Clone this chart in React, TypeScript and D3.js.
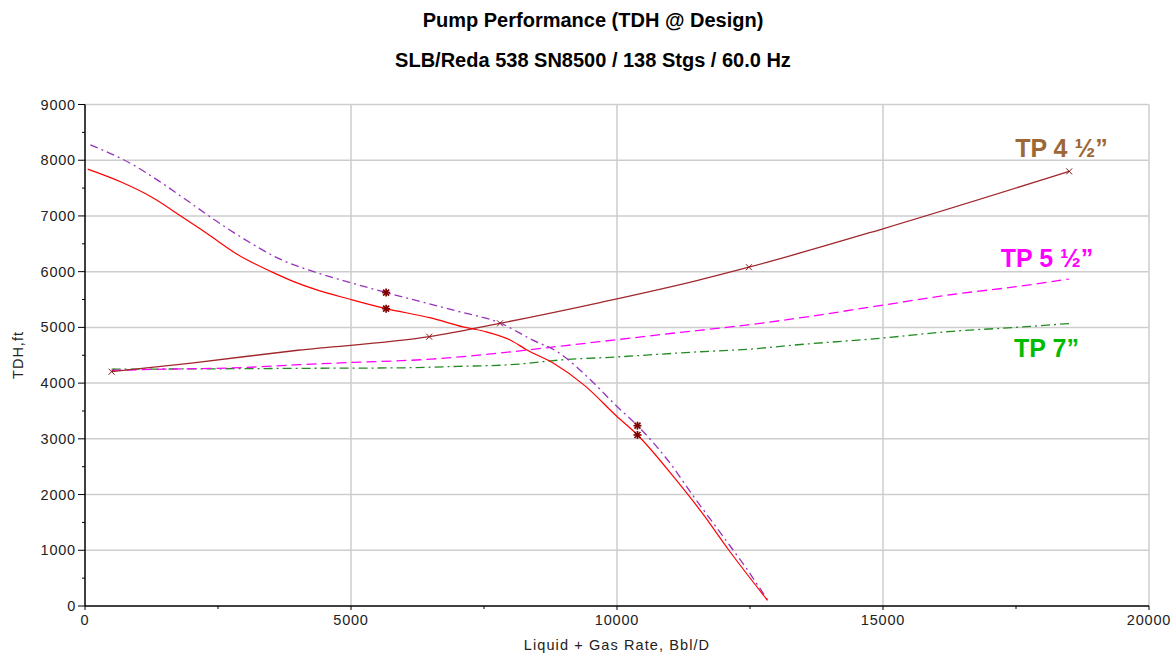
import React from "react";
import * as d3 from "d3";

type P = [number, number];

const TITLE = "Pump Performance (TDH @ Design)";
const SUBTITLE = "SLB/Reda 538 SN8500 / 138 Stgs / 60.0 Hz";
const X_LABEL = "Liquid + Gas Rate, Bbl/D";
const Y_LABEL = "TDH,ft";

const xMajorTicks = [0, 5000, 10000, 15000, 20000];
const xMinorTicks = [2500, 7500, 12500, 17500];
const yMajorTicks = [0, 1000, 2000, 3000, 4000, 5000, 6000, 7000, 8000, 9000];
const yMinorTicks = [500, 1500, 2500, 3500, 4500, 5500, 6500, 7500, 8500];

// Pump curve at design (solid red)
const pumpCurve: P[] = [
  [50, 7840], [700, 7600], [1250, 7340], [1800, 7000], [2300, 6680], [2900, 6290],
  [3500, 6000], [3900, 5830], [4300, 5690], [5000, 5500], [5660, 5336], [6500, 5170],
  [7100, 5010], [7500, 4930], [8000, 4770], [8300, 4600], [8800, 4360], [9400, 3950],
  [10000, 3400], [10385, 3069], [11100, 2275], [11600, 1670], [12100, 1005], [12830, 100],
];

// Pump curve (purple dash-dot)
const pumpCurve2: P[] = [
  [100, 8275], [900, 7920], [1400, 7620], [1900, 7290], [2300, 7020], [3000, 6580],
  [3700, 6210], [4300, 6000], [5000, 5800], [5660, 5625], [6400, 5440], [7000, 5290],
  [7800, 5080], [8400, 4780], [8900, 4550], [9500, 4060], [10000, 3580], [10385, 3236],
  [11000, 2560], [11400, 2020], [12000, 1240], [12400, 720], [12830, 110],
];

// Tubing 4 1/2" system curve
const tp45: P[] = [
  [500, 4205], [2000, 4360], [4000, 4590], [6470, 4833], [7800, 5073], [9700, 5450],
  [11500, 5840], [12480, 6080], [15000, 6770], [18500, 7800],
];
const tp45Markers: P[] = [[500, 4205], [6470, 4833], [7800, 5073], [12480, 6080], [18500, 7800]];

// Tubing 5 1/2" system curve
const tp55: P[] = [
  [500, 4230], [1500, 4250], [3000, 4280], [4000, 4330], [5000, 4370], [6500, 4430],
  [7800, 4540], [9000, 4670], [10000, 4780], [11000, 4890], [12500, 5050], [13500, 5180],
  [15000, 5400], [16300, 5590], [17500, 5730], [18500, 5870],
];

// Tubing 7" system curve
const tp7: P[] = [
  [500, 4250], [2000, 4255], [4000, 4265], [6000, 4275], [7000, 4300], [8000, 4330],
  [9000, 4420], [10000, 4470], [11500, 4560], [12500, 4610], [13300, 4680], [15000, 4810],
  [16300, 4930], [17500, 5000], [18500, 5070],
];

// Operating points (star markers)
const opPoints: P[] = [[5660, 5625], [5660, 5336], [10385, 3236], [10385, 3069]];

const labels = [
  { text: "TP 4 \u00BD\u201D", x: 18355, y: 8058, color: "#9e6836" },
  { text: "TP 5 \u00BD\u201D", x: 18083, y: 6084, color: "#ff00ff" },
  { text: "TP 7\u201D", x: 18073, y: 4469, color: "#00bb00" },
];

export default function App() {
  const W = 1174, H = 656;
  const x = d3.scaleLinear().domain([0, 20000]).range([85, 1149]);
  const y = d3.scaleLinear().domain([0, 9000]).range([606, 104.5]);
  const line = d3.line<P>().x((d) => x(d[0])).y((d) => y(d[1])).curve(d3.curveMonotoneX);
  const tickFont = "Arial, 'Liberation Sans', sans-serif";

  return (
    <svg width={W} height={H} style={{ position: "absolute", left: 0, top: 0, background: "#fff" }}>
      <rect x={0} y={0} width={W} height={H} fill="#fff" />
      <text x={593} y={27} textAnchor="middle" fontFamily={tickFont} fontSize={20} fontWeight="bold" fill="#000">{TITLE}</text>
      <text x={593} y={67} textAnchor="middle" fontFamily={tickFont} fontSize={20} fontWeight="bold" fill="#000">{SUBTITLE}</text>

      {/* grid */}
      {xMajorTicks.filter((t) => t > 0).map((t) => (
        <line key={"gx" + t} x1={x(t)} x2={x(t)} y1={y(0)} y2={y(9000)} stroke="#cdcdcd" strokeWidth={1.5} />
      ))}
      {yMajorTicks.filter((t) => t > 0).map((t) => (
        <line key={"gy" + t} x1={x(0)} x2={x(20000)} y1={y(t)} y2={y(t)} stroke="#cdcdcd" strokeWidth={1.5} />
      ))}

      {/* axes */}
      <line x1={x(0)} x2={x(0)} y1={y(0)} y2={y(9000)} stroke="#000" strokeWidth={1.5} />
      <line x1={x(0)} x2={x(20000)} y1={y(0)} y2={y(0)} stroke="#000" strokeWidth={1.5} />
      {yMajorTicks.map((t) => (
        <g key={"yt" + t}>
          <line x1={x(0) - 7} x2={x(0)} y1={y(t)} y2={y(t)} stroke="#000" />
          <text x={x(0) - 9} y={y(t) + 5} textAnchor="end" fontFamily={tickFont} fontSize={14.5} letterSpacing={0.8} fill="#222">{t}</text>
        </g>
      ))}
      {yMinorTicks.map((t) => (
        <line key={"ym" + t} x1={x(0) - 3} x2={x(0)} y1={y(t)} y2={y(t)} stroke="#000" />
      ))}
      {xMajorTicks.map((t) => (
        <g key={"xt" + t}>
          <line x1={x(t)} x2={x(t)} y1={y(0)} y2={y(0) + 4} stroke="#000" />
          <text x={x(t)} y={y(0) + 19} textAnchor="middle" fontFamily={tickFont} fontSize={14.5} letterSpacing={0.8} fill="#222">{t}</text>
        </g>
      ))}
      {xMinorTicks.map((t) => (
        <line key={"xm" + t} x1={x(t)} x2={x(t)} y1={y(0)} y2={y(0) + 3} stroke="#000" />
      ))}
      <text x={617} y={650} textAnchor="middle" fontFamily={tickFont} fontSize={14.5} letterSpacing={1.1} fill="#222">{X_LABEL}</text>
      <text transform={`translate(23,355) rotate(-90)`} textAnchor="middle" fontFamily={tickFont} fontSize={14.5} letterSpacing={1} fill="#222">{Y_LABEL}</text>

      {/* system curves */}
      <path d={line(tp7) || ""} fill="none" stroke="#228b22" strokeWidth={1.3} strokeDasharray="9,4,2,4" />
      <path d={line(tp55) || ""} fill="none" stroke="#ff00ff" strokeWidth={1.3} strokeDasharray="10,5" />
      <path d={line(tp45) || ""} fill="none" stroke="#a0282d" strokeWidth={1.3} />

      {/* pump curves */}
      <path d={line(pumpCurve2) || ""} fill="none" stroke="#9933bb" strokeWidth={1.3} strokeDasharray="8,4,2,4" />
      <path d={line(pumpCurve) || ""} fill="none" stroke="#ff0000" strokeWidth={1.2} />

      {/* markers */}
      {tp45Markers.map((d, i) => (
        <g key={"m" + i} stroke="#8b1a1a" strokeWidth={1}>
          <line x1={x(d[0]) - 3} x2={x(d[0]) + 3} y1={y(d[1]) - 3} y2={y(d[1]) + 3} />
          <line x1={x(d[0]) - 3} x2={x(d[0]) + 3} y1={y(d[1]) + 3} y2={y(d[1]) - 3} />
        </g>
      ))}
      {opPoints.map((d, i) => (
        <g key={"op" + i} stroke="#800000" strokeWidth={1.7}>
          <line x1={x(d[0]) - 4} x2={x(d[0]) + 4} y1={y(d[1])} y2={y(d[1])} />
          <line x1={x(d[0])} x2={x(d[0])} y1={y(d[1]) - 4} y2={y(d[1]) + 4} />
          <line x1={x(d[0]) - 3} x2={x(d[0]) + 3} y1={y(d[1]) - 3} y2={y(d[1]) + 3} />
          <line x1={x(d[0]) - 3} x2={x(d[0]) + 3} y1={y(d[1]) + 3} y2={y(d[1]) - 3} />
        </g>
      ))}

      {/* labels */}
      {labels.map((l) => (
        <text key={l.text} x={x(l.x)} y={y(l.y)} textAnchor="middle" fontFamily={tickFont} fontSize={25} fontWeight="bold" fill={l.color}>{l.text}</text>
      ))}
    </svg>
  );
}
